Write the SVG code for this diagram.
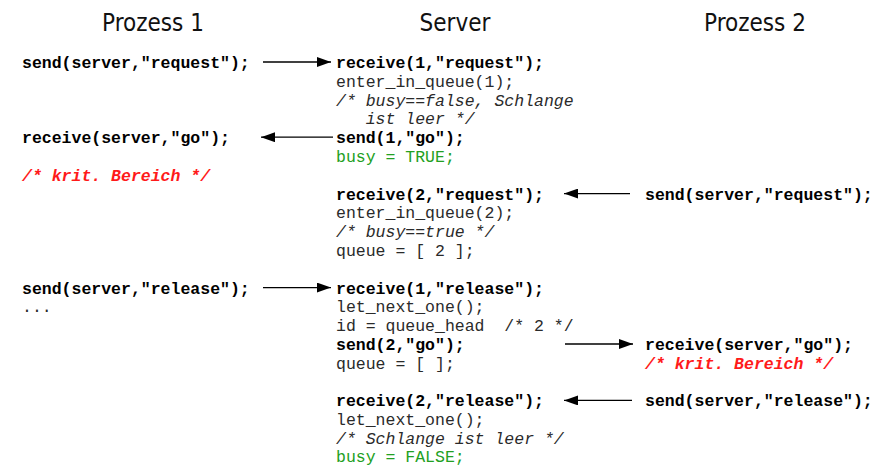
<svg xmlns="http://www.w3.org/2000/svg" width="892" height="465" viewBox="0 0 892 465">
<style>
.h{font-family:"DejaVu Sans Condensed","DejaVu Sans",sans-serif;font-stretch:condensed;font-size:24px;fill:#111;text-anchor:middle}
.m{font-family:"Liberation Mono","Courier New",monospace;font-size:16.5px;fill:#2a2a2a;white-space:pre}
.b{font-weight:bold;fill:#000}
.i{font-style:italic}
.r{fill:#ff1a1a;font-weight:bold;font-style:italic}
.g{fill:#22a022}
.c{stroke:#000;stroke-width:1.3;fill:none}
</style>
<defs>
<marker id="ah" viewBox="0 0 14 10" refX="14" refY="5" markerWidth="14" markerHeight="10" markerUnits="userSpaceOnUse" orient="auto">
<path d="M0,0 L14,5 L0,10 Z" fill="#000"/>
</marker>
</defs>
<g id="headers">
<text class="h" x="153" y="31">Prozess 1</text>
<text class="h" x="455" y="31">Server</text>
<text class="h" x="755" y="31">Prozess 2</text>
</g>
<g id="p1-request"><text class="m b" x="22" y="68">send(server,"request");</text></g>
<g id="p1-go">
<text class="m b" x="22" y="143.2">receive(server,"go");</text>
<text class="m r" x="22" y="180.8">/* krit. Bereich */</text>
</g>
<g id="p1-release">
<text class="m b" x="22" y="293.6">send(server,"release");</text>
<text class="m" x="22" y="312.4">...</text>
</g>
<g id="s-req1">
<text class="m b" x="336" y="68">receive(1,"request");</text>
<text class="m" x="336" y="86.8">enter_in_queue(1);</text>
<text class="m i" x="336" y="105.6">/* busy==false, Schlange</text>
<text class="m i" x="336" y="124.4">   ist leer */</text>
<text class="m b" x="336" y="143.2">send(1,"go");</text>
<text class="m g" x="336" y="162">busy = TRUE;</text>
</g>
<g id="s-req2">
<text class="m b" x="336" y="199.6">receive(2,"request");</text>
<text class="m" x="336" y="218.4">enter_in_queue(2);</text>
<text class="m i" x="336" y="237.2">/* busy==true */</text>
<text class="m" x="336" y="256">queue = [ 2 ];</text>
</g>
<g id="s-rel1">
<text class="m b" x="336" y="293.6">receive(1,"release");</text>
<text class="m" x="336" y="312.4">let_next_one();</text>
<text class="m" x="336" y="331.2">id = queue_head  /* 2 */</text>
<text class="m b" x="336" y="350">send(2,"go");</text>
<text class="m" x="336" y="368.8">queue = [ ];</text>
</g>
<g id="s-rel2">
<text class="m b" x="336" y="406.4">receive(2,"release");</text>
<text class="m" x="336" y="425.2">let_next_one();</text>
<text class="m i" x="336" y="444">/* Schlange ist leer */</text>
<text class="m g" x="336" y="461.6">busy = FALSE;</text>
</g>
<g id="p2-request"><text class="m b" x="645" y="199.6">send(server,"request");</text></g>
<g id="p2-go">
<text class="m b" x="645" y="350">receive(server,"go");</text>
<text class="m r" x="645" y="368.8">/* krit. Bereich */</text>
</g>
<g id="p2-release"><text class="m b" x="645" y="406.4">send(server,"release");</text></g>
<g id="connectors">
<line class="c" x1="263" y1="62" x2="331" y2="62" marker-end="url(#ah)"/>
<line class="c" x1="333" y1="137.2" x2="261" y2="137.2" marker-end="url(#ah)"/>
<line class="c" x1="630" y1="193.6" x2="564" y2="193.6" marker-end="url(#ah)"/>
<line class="c" x1="263" y1="287.6" x2="331" y2="287.6" marker-end="url(#ah)"/>
<line class="c" x1="565" y1="344" x2="633" y2="344" marker-end="url(#ah)"/>
<line class="c" x1="632" y1="400.4" x2="564" y2="400.4" marker-end="url(#ah)"/>
</g>
</svg>
